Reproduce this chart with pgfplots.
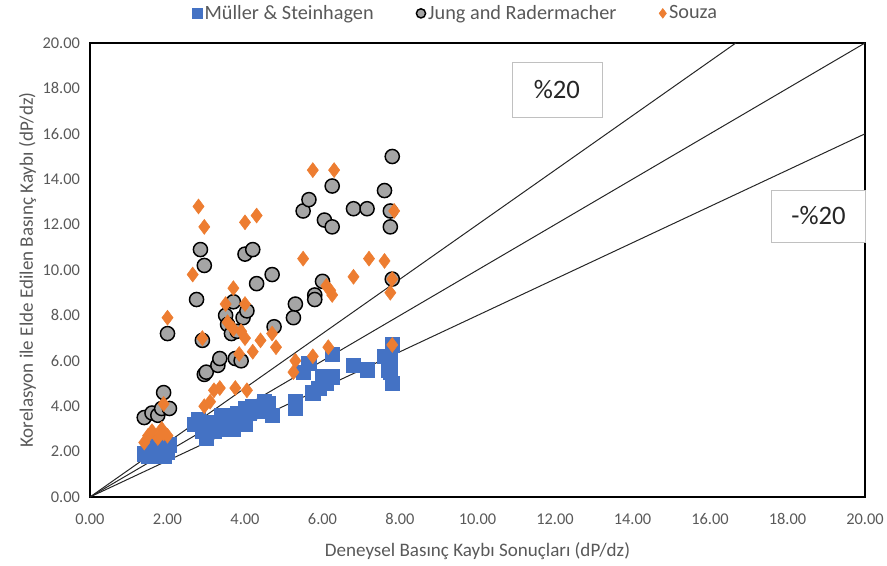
\documentclass[border=0pt]{standalone}
\usepackage{pgfplots}
\pgfplotsset{compat=1.18}
\usepackage{fontspec}
\setmainfont{Carlito}
\definecolor{mblue}{HTML}{4472C4}
\definecolor{sorange}{HTML}{ED7D31}
\definecolor{jgray}{HTML}{A5A5A5}
\definecolor{txtgray}{HTML}{595959}
\begin{document}
\begin{tikzpicture}[x=1pt,y=1pt]
\path[use as bounding box] (-67.5,-51) rectangle (597.75,372.75);
\begin{axis}[
  at={(0,0)}, anchor=south west,
  scale only axis, width=581.25pt, height=340.5pt,
  xmin=0, xmax=20, ymin=0, ymax=20,
  xtick={0,2,...,20}, ytick={0,2,...,20},
  major tick length=0pt,
  /pgf/number format/assume math mode=true,
  /pgf/number format/.cd, fixed, fixed zerofill, precision=2, /pgfplots/.cd,
  tick label style={font=\fontsize{12.3}{14}\selectfont, text=txtgray},
  xticklabel style={yshift=-9pt},
  yticklabel style={xshift=-4pt},
  axis line style={draw=black, line width=0.8pt},
  xlabel={Deneysel Basınç Kaybı Sonuçları (dP/dz)},
  ylabel={Korelasyon ile Elde Edilen Basınç Kaybı (dP/dz)},
  label style={font=\fontsize{14.3}{16}\selectfont, text=txtgray},
  xlabel style={yshift=-6pt},
  ylabel style={yshift=-2pt},
  legend columns=3,
  legend style={at={(0.5,1.0)}, anchor=south, yshift=12pt, xshift=-16pt, draw=none, fill=none,
    font=\fontsize{15.2}{17}\selectfont, text=txtgray,
    /tikz/every even column/.append style={column sep=30pt}},
  legend image post style={scale=0.65},
  legend cell align=left,
  clip=false,
]
\addplot[only marks, mark=square*, mark size=5.4pt, mark options={fill=mblue, draw=mblue}] coordinates {
(1.4,1.9) (1.5,1.8) (1.6,2.0) (1.7,2.1) (1.8,2.2) (1.9,2.3) (2.0,2.0) (2.05,2.3) (1.6,2.4) (1.9,1.8)
(2.7,3.2) (2.8,3.4) (2.9,2.9) (3.0,2.6) (3.1,3.3) (3.2,2.9) (3.4,3.1) (3.4,3.6) (3.5,3.0) (3.6,3.5)
(3.6,3.2) (3.7,3.0) (3.8,3.7) (3.9,3.5) (4.0,3.2) (4.0,3.9) (4.1,3.7) (4.2,4.0) (4.3,3.8) (4.5,4.2)
(4.6,4.1) (4.7,3.6) (5.3,4.2) (5.3,3.9) (5.5,5.5) (5.65,5.9) (5.75,4.6) (5.9,4.8) (6.0,5.3) (6.1,5.0)
(6.25,6.3) (6.25,5.3) (6.8,5.8) (7.15,5.6) (7.6,6.2) (7.75,6.0) (7.8,6.7) (7.75,5.5) (7.8,5.0) (7.7,5.6)
};
\addlegendentry{Müller \& Steinhagen}
\addplot[only marks, mark=*, mark size=5.3pt, mark options={fill=jgray, draw=black, line width=1.1pt}] coordinates {
(1.4,3.5) (1.6,3.7) (1.75,3.6) (1.85,3.9) (1.9,4.6) (2.05,3.9) (2.0,7.2) (2.75,8.7) (2.85,10.9) (2.95,10.2)
(2.9,6.9) (2.95,5.4) (3.0,5.5) (3.3,5.8) (3.35,6.1) (3.5,8.0) (3.55,7.6) (3.7,8.6) (3.65,7.2) (3.8,7.3)
(3.75,6.1) (3.9,6.0) (3.95,7.9) (4.0,10.7) (4.05,8.2) (4.2,10.9) (4.3,9.4) (4.7,9.8) (4.75,7.5) (5.25,7.9)
(5.3,8.5) (5.5,12.6) (5.65,13.1) (5.8,8.9) (5.8,8.7) (6.0,9.5) (6.05,12.2) (6.25,11.9) (6.25,13.7) (6.8,12.7)
(7.15,12.7) (7.6,13.5) (7.75,12.6) (7.75,11.9) (7.8,15.0) (7.8,9.6)
};
\addlegendentry{Jung and Radermacher}
\addplot[only marks, mark=diamond*, mark size=5.6pt, mark options={fill=sorange, draw=sorange}] coordinates {
(1.4,2.4) (1.5,2.7) (1.6,2.9) (1.75,2.6) (1.85,3.0) (1.9,2.8) (2.0,2.7) (1.9,4.1) (2.0,7.9) (2.65,9.8)
(2.8,12.8) (2.9,7.0) (2.95,11.9) (2.95,4.0) (3.1,4.2) (3.2,4.7) (3.35,4.8) (3.5,8.5) (3.55,7.7) (3.7,9.2)
(3.75,4.8) (3.7,7.4) (3.85,6.3) (3.9,7.3) (4.0,7.0) (4.0,8.5) (4.0,12.1) (4.05,4.7) (4.3,12.4) (4.2,6.4)
(4.4,6.9) (4.7,7.2) (4.8,6.6) (5.25,5.5) (5.3,6.0) (5.5,10.5) (5.75,14.4) (5.75,6.2) (6.1,9.3) (6.2,9.1)
(6.25,8.9) (6.15,6.6) (6.3,14.4) (6.8,9.7) (7.2,10.5) (7.6,10.4) (7.75,9.0) (7.8,9.6) (7.85,12.6) (7.8,6.7)
};
\addlegendentry{Souza}
\addplot[black!85, line width=0.75pt, forget plot] coordinates {(0,0) (16.667,20)};
\addplot[black!85, line width=0.75pt, forget plot] coordinates {(0,0) (20,20)};
\addplot[black!85, line width=0.75pt, forget plot] coordinates {(0,0) (20,16)};
\node[draw=jgray!70, line width=0.6pt, fill=white, minimum width=67.5pt, minimum height=41pt,
  font=\fontsize{20}{24}\selectfont, text=black!85] at (axis cs:12.05,17.93) {\%20};
\node[draw=jgray!70, line width=0.6pt, fill=white, minimum width=70pt, minimum height=39pt,
  font=\fontsize{20}{24}\selectfont, text=black!85] at (axis cs:18.8,12.38) {-\%20};
\end{axis}
\end{tikzpicture}
\end{document}
